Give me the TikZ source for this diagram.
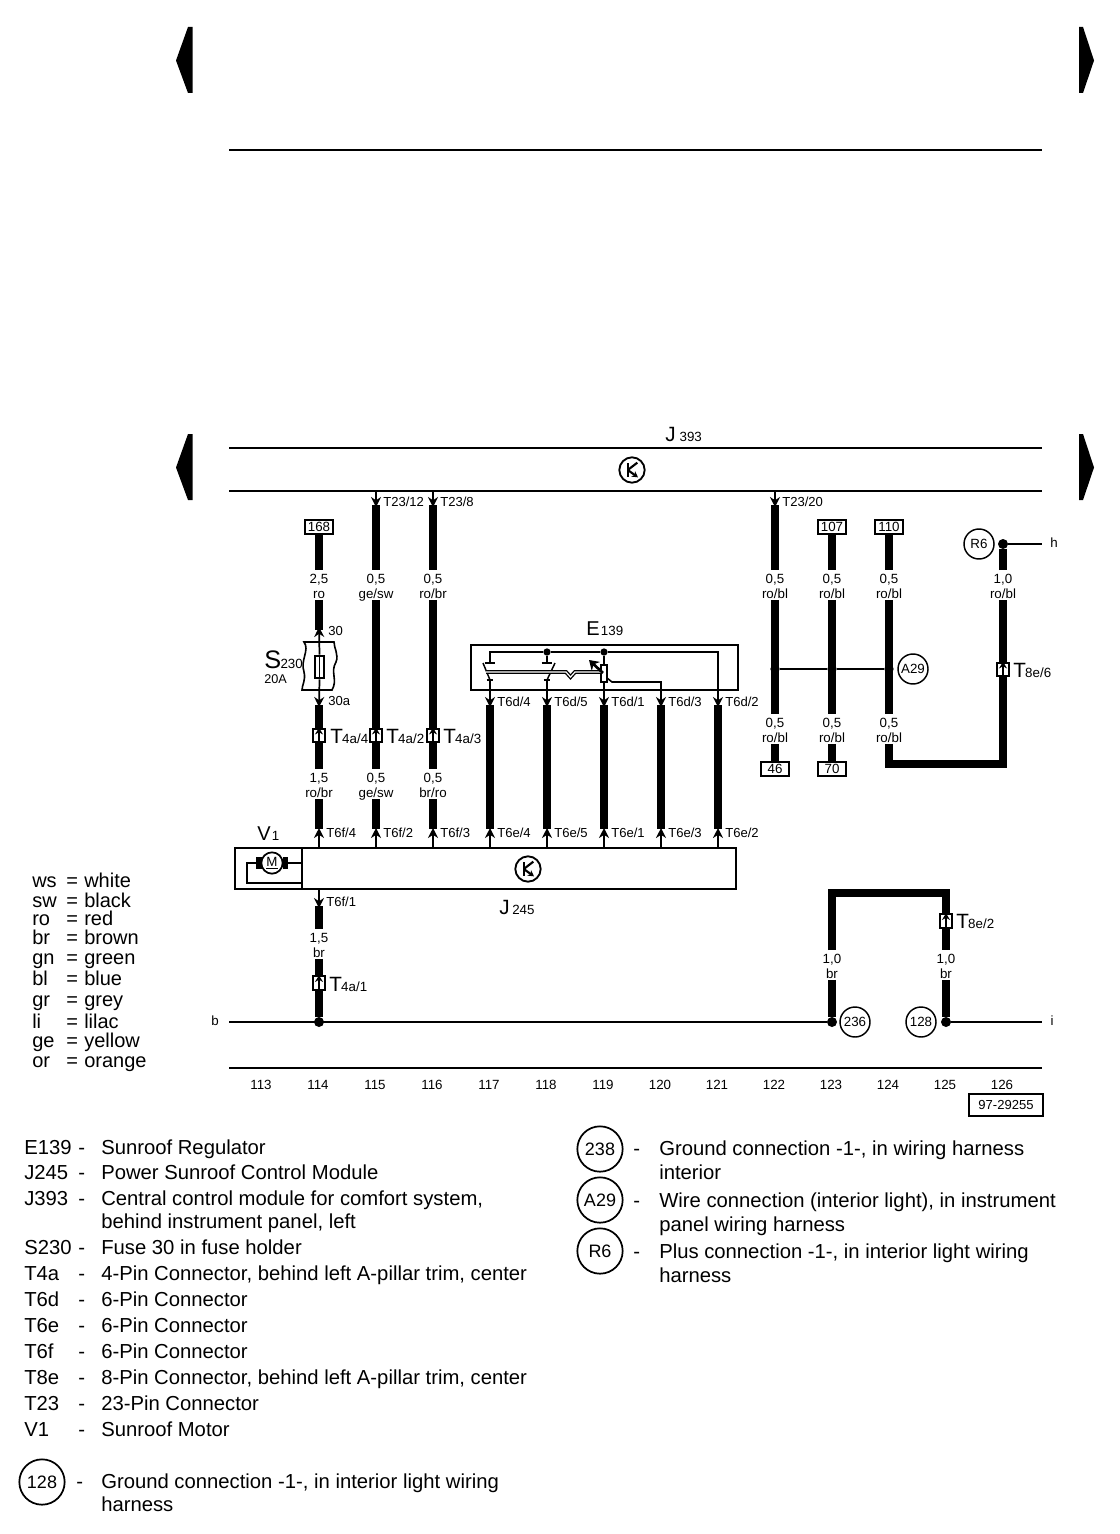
\documentclass[tikz,border=0pt]{standalone}
\usepackage{fontspec}
\setmainfont{Liberation Sans}
\usetikzlibrary{arrows.meta}
\tikzset{
  wire/.style={line width=6pt,line cap=butt},
  rail/.style={line width=1.9pt},
  pinarrow/.style={line width=1.3pt,-{Stealth[length=7.5pt,width=7.5pt]}},
  wlbox/.style={inner sep=0pt,minimum width=30pt,minimum height=22pt},
  wltxt/.style={font=\fontsize{10}{11}\selectfont,anchor=base,inner sep=0pt},
  plabel/.style={font=\fontsize{9.8}{11}\selectfont,anchor=base west,inner sep=0pt},
  tabbox/.style={draw,line width=1.6pt,fill=white,font=\fontsize{10}{11}\selectfont,inner sep=0pt,minimum width=21pt,minimum height=11pt},
  conbox/.style={draw,line width=1.6pt,fill=white,inner sep=0pt,minimum width=8.5pt,minimum height=10pt},
  locmark/.style={draw,circle,line width=1.1pt,fill=white,inner sep=0pt,minimum size=22.5pt,font=\fontsize{10}{11}\selectfont},
  bigloc/.style={draw,circle,line width=1.3pt,fill=white,inner sep=0pt,minimum size=34pt,font=\fontsize{13.5}{15}\selectfont},
  ecu/.style={draw,circle,line width=1.4pt,fill=white,inner sep=0pt,minimum size=19pt},
  jdot/.style={circle,fill=black,inner sep=0pt,minimum size=7.5pt},
  minidot/.style={circle,fill=black,inner sep=0pt,minimum size=7pt},
  txt/.style={font=\fontsize{15.2}{16}\selectfont,anchor=base west,inner sep=0pt},
  legendtxt/.style={font=\fontsize{15}{16}\selectfont,anchor=base west,inner sep=0pt},
  smalltxt/.style={font=\fontsize{10}{11}\selectfont,inner sep=0pt},
  biglab/.style={font=\fontsize{15.5}{17}\selectfont,anchor=base west,inner sep=0pt}
}
\newcommand{\bigsub}[2]{#1\kern-0.5pt{\fontsize{10}{11}\selectfont #2}}
\newcommand{\congl}[3]{% name, x, y
  \node[conbox] (#1) at (#2,#3) {};
  \draw[line width=1.1pt,-{Stealth[length=5pt,width=6pt]}] (#1.south) -- (#1.north);
}
\newcommand{\wirelab}[5]{% name, x, y, first line, second line
  \node[wlbox] (#1) at (#2,#3) {};
  \node[wltxt] (#1a) at (#2,#3-2) {#4};
  \node[wltxt] (#1b) at (#2,#3+13) {#5};
}
\newcommand{\ecuglyph}[1]{%
  \draw[line width=1.6pt] ([xshift=-3.2pt,yshift=5pt]#1.center) -- ([xshift=-3.2pt,yshift=-5pt]#1.center);
  \draw[line width=1.6pt] ([xshift=-3.2pt]#1.center) -- ([xshift=4pt,yshift=5.5pt]#1.center);
  \draw[line width=1.6pt,-{Stealth[length=4.5pt,width=5pt]}] ([xshift=-3.2pt]#1.center) -- ([xshift=4.5pt,yshift=-5.5pt]#1.center);
}
\begin{document}
\begin{tikzpicture}[x=0.75pt,y=-0.75pt]
\useasboundingbox (0,0) rectangle (1120,1534);
\fill[white] (0,0) rectangle (1120,1534);

% side markers
\foreach \yy in {0,407}{
  \fill[black] (188,27+\yy) -- (192.5,27+\yy) -- (192.5,93+\yy) -- (188,93+\yy) -- (176,60.5+\yy) -- cycle;
  \fill[black] (1083,27+\yy) -- (1079,27+\yy) -- (1079,93+\yy) -- (1083,93+\yy) -- (1094,60.5+\yy) -- cycle;
}

% rails
\coordinate (r1a) at (229,150); \coordinate (r1b) at (1042,150);
\coordinate (b1a) at (229,448); \coordinate (b1b) at (1042,448);
\coordinate (b2a) at (229,491); \coordinate (b2b) at (1042,491);
\coordinate (axa) at (229,1068); \coordinate (axb) at (1042,1068);
\draw[rail] (r1a) -- (r1b);
\draw[rail] (b1a) -- (b1b);
\draw[rail] (b2a) -- (b2b);
\draw[line width=1pt] (axa) -- (axb);

\node[font=\fontsize{15.5}{17}\selectfont,anchor=base west,inner sep=0pt] (j393) at (665,441) {J\kern3pt{\fontsize{10}{11}\selectfont 393}};
\node[ecu] (j393sym) at (632,470) {};
\ecuglyph{j393sym}

% control module J245
\node[draw,line width=1.6pt,minimum width=375.75pt,minimum height=30.75pt,inner sep=0pt] (j245) at (485.5,868.5) {};
\coordinate (jdiv1) at (302,848); \coordinate (jdiv2) at (302,889);
\draw[line width=1.6pt] (jdiv1) -- (jdiv2);
\node[ecu] (j245sym) at (528,869) {};
\ecuglyph{j245sym}
\node[font=\fontsize{15.5}{17}\selectfont,anchor=base west,inner sep=0pt] (j245lab) at (499,914) {J\kern2pt{\fontsize{10}{11}\selectfont 245}};
\node[font=\fontsize{15}{17}\selectfont,anchor=base west,inner sep=0pt] (v1lab) at (257,840) {V\kern1pt{\fontsize{10}{11}\selectfont 1}};

% motor
\node[draw,circle,line width=1.3pt,fill=white,minimum size=16pt,inner sep=0pt,font=\fontsize{10}{11}\selectfont] (mot) at (272,863) {\underline{M}};
\fill[black] (256,857) rectangle (262,869);
\fill[black] (282.5,857) rectangle (288,869);
\coordinate (mr) at (288,863); \coordinate (md) at (302,863);
\coordinate (ml) at (256,863); \coordinate (mc1) at (247,863); \coordinate (mc2) at (247,883); \coordinate (mc3) at (302,883);
\draw[line width=1.6pt] (mr) -- (md);
\draw[line width=1.6pt] (ml) -- (mc1) -- (mc2) -- (mc3);

% tab boxes
\node[tabbox] (t168) at (319,527) {168};
\node[tabbox] (t107) at (832,527) {107};
\node[tabbox] (t110) at (889,527) {110};
\node[tabbox] (t46) at (775,769) {46};
\node[tabbox] (t70) at (832,769) {70};

% wire labels
\wirelab{w1}{319}{585}{2,5}{ro}
\wirelab{w2}{376}{585}{0,5}{ge/sw}
\wirelab{w3}{433}{585}{0,5}{ro/br}
\wirelab{w4}{319}{784}{1,5}{ro/br}
\wirelab{w5}{376}{784}{0,5}{ge/sw}
\wirelab{w6}{433}{784}{0,5}{br/ro}
\wirelab{w7}{319}{944}{1,5}{br}
\wirelab{w8}{775}{585}{0,5}{ro/bl}
\wirelab{w9}{832}{585}{0,5}{ro/bl}
\wirelab{w10}{889}{585}{0,5}{ro/bl}
\wirelab{w11}{1003}{585}{1,0}{ro/bl}
\wirelab{w12}{775}{729}{0,5}{ro/bl}
\wirelab{w13}{832}{729}{0,5}{ro/bl}
\wirelab{w14}{889}{729}{0,5}{ro/bl}
\wirelab{w15}{832}{965}{1,0}{br}
\wirelab{w16}{946}{965}{1,0}{br}

% pin coordinates
\foreach \n/\xx in {a/376,b/433,c/775}{
  \coordinate (tb\n) at (\xx,491);
  \coordinate (ta\n) at (\xx,507);
  \coordinate (tw\n) at (\xx,505);
}
\foreach \n/\xx in {a/490,b/547,c/604,d/661,e/718}{
  \coordinate (ee\n) at (\xx,688);
  \coordinate (ea\n) at (\xx,707);
  \coordinate (ew\n) at (\xx,705);
  \coordinate (eu\n) at (\xx,829);
  \coordinate (ej\n) at (\xx,848);
  \coordinate (ek\n) at (\xx,828);
}
\foreach \n/\xx in {a/319,b/376,c/433}{
  \coordinate (fj\n) at (\xx,848);
  \coordinate (fk\n) at (\xx,828);
  \coordinate (fu\n) at (\xx,829);
}

% junctions and connectors
\node[jdot] (jb) at (319,1022) {};
\node[jdot] (j236) at (832,1022) {};
\node[jdot] (j128) at (946,1022) {};
\node[minidot] (a1) at (775,669) {};
\node[minidot] (a2) at (832,669) {};
\node[minidot] (a3) at (889,669) {};
\node[jdot] (rj) at (1003,544) {};
\coordinate (c1) at (889,763.5); \coordinate (c2) at (1003,763.5);
\coordinate (g1) at (832,893); \coordinate (g2) at (946,893);
\coordinate (ba) at (229,1022);
\coordinate (ia) at (1042,1022);
\coordinate (hb) at (1042,544);

% fuse
\coordinate (f30) at (319,630);
\coordinate (f30a) at (319,707); \coordinate (f30aw) at (319,705);
\draw[line width=1.2pt] (304,642) .. controls (310,650) and (300,660) .. (304,672) .. controls (306,680) and (302,685) .. (302,690) -- (332,690) .. controls (338,680) and (330,672) .. (336,662) .. controls (339,655) and (334,648) .. (334,642) -- cycle;
\node[draw,line width=1.6pt,fill=white,minimum width=7pt,minimum height=17pt,inner sep=0pt] (fuse) at (319.5,667) {};
\coordinate (f30tip) at (319,627);
\draw[pinarrow] (fuse.north) -- (f30tip);
\draw[pinarrow] (fuse.south) -- (f30a);
\draw[line width=1.2pt] (fuse.north) -- (fuse.south);

% thick wires
\draw[wire] (t168) -- (w1);
\draw[wire] (w1) -- (f30);
\draw[wire] (f30aw) -- (w4);
\draw[wire] (w4) -- (fua);
\draw[wire] (twa) -- (w2);
\draw[wire] (w2) -- (w5);
\draw[wire] (w5) -- (fub);
\draw[wire] (twb) -- (w3);
\draw[wire] (w3) -- (w6);
\draw[wire] (w6) -- (fuc);
\foreach \n in {a,b,c,d,e}{ \draw[wire] (ew\n) -- (eu\n); }
\coordinate (f1w) at (319,906);
\coordinate (f1t) at (319,889);
\coordinate (f1a) at (319,908);
\draw[wire] (f1w) -- (w7);
\draw[wire] (w7) -- (jb);
\draw[wire] (twc) -- (w8);
\draw[wire] (w8) -- (w12);
\draw[wire] (w12) -- (t46);
\draw[wire] (t107) -- (w9);
\draw[wire] (w9) -- (w13);
\draw[wire] (w13) -- (t70);
\draw[wire] (t110) -- (w10);
\draw[wire] (w10) -- (w14);
\draw[wire,line join=miter] (w14) -- (c1) -- (c2) -- (w11);
\draw[wire] (w11) -- (rj);
\draw[wire,line join=miter] (w15) -- (g1) -- (g2) -- (w16);
\draw[wire] (w15) -- (j236);
\draw[wire] (w16) -- (j128);

% thin rails
\draw[rail] (ba) -- (j236);
\draw[rail] (j128) -- (ia);
\draw[rail] (rj) -- (hb);
\draw[rail] (a1) -- (a2) -- (a3);

% pins
\foreach \n in {a,b,c}{ \draw[pinarrow] (tb\n) -- (ta\n); }
\foreach \n in {a,b,c,d,e}{
  \draw[pinarrow] (ee\n) -- (ea\n);
  \draw[pinarrow] (ej\n) -- (ek\n);
}
\foreach \n in {a,b,c}{ \draw[pinarrow] (fj\n) -- (fk\n); }
\draw[pinarrow] (f1t) -- (f1a);

% inline connectors
\congl{c4a4}{319}{735.5}
\congl{c4a2}{376}{735.5}
\congl{c4a3}{433}{735.5}
\congl{c4a1}{319}{983}
\congl{c8e6}{1003}{669.5}
\congl{c8e2}{946}{921}

% locating circles
\node[locmark] (l236) at (855,1022) {236};
\node[locmark] (l128) at (921,1022) {128};
\node[locmark] (la29) at (913,669) {A29};
\node[locmark] (lr6) at (979,544) {R6};

% E139
\node[draw,line width=1.4pt,minimum width=200.25pt,minimum height=33.75pt,inner sep=0pt] (e139) at (604.5,667.5) {};
\node[font=\fontsize{15}{17}\selectfont,anchor=base west,inner sep=0pt] (e139lab) at (586,635) {E\kern1pt{\fontsize{10}{11}\selectfont 139}};
\coordinate (k1) at (490,652); \coordinate (k1b) at (490,663);
\node[minidot,minimum size=5.5pt] (k2) at (547,652) {};
\node[minidot,minimum size=5.5pt] (k3) at (604,652) {};
\coordinate (k2b) at (547,663);
\coordinate (k4) at (718,652);
\node[draw,line width=1.2pt,fill=white,minimum width=4.5pt,minimum height=13pt,inner sep=0pt] (res) at (604,673.5) {};
\coordinate (s1t) at (483,663); \coordinate (s1b) at (490,680);
\coordinate (s2t) at (555,663); \coordinate (s2b) at (547,680);
\coordinate (d1) at (486,672); \coordinate (d2) at (566,672); \coordinate (d3) at (570.5,677); \coordinate (d4) at (575,672); \coordinate (d5) at (601,672);
\coordinate (wp1) at (607,678); \coordinate (wp2) at (612,682); \coordinate (wp3) at (661,682);
\coordinate (ar1) at (603,673); \coordinate (ar2) at (589,660);
\draw[line width=1.2pt] (k1b) -- (k1) -- (k2) -- (k3) -- (k4) -- (eee);
\draw[line width=1.2pt] (k2) -- (k2b);
\draw[line width=1.2pt] (k3) -- (res);
\draw[line width=1.2pt] (res) -- (eec);
\draw[line width=1.2pt] ([xshift=-4pt]k1b) -- ([xshift=4pt]k1b);
\draw[line width=1.2pt] ([xshift=-4pt]k2b) -- ([xshift=4pt]k2b);
\draw[line width=1.1pt] (s1t) -- (s1b);
\draw[line width=1.1pt] (s2t) -- (s2b);
\draw[line width=1.1pt] ([xshift=-2.5pt]s1b) -- ([xshift=2.5pt]s1b);
\draw[line width=1.1pt] ([xshift=-2.5pt]s2b) -- ([xshift=2.5pt]s2b);
\draw[line width=1.2pt] (s1b) -- (eea);
\draw[line width=1.2pt] (s2b) -- (eeb);
\draw[line width=1pt,double,double distance=0.9pt] (d1) -- (d2) -- (d3) -- (d4) -- (d5);
\draw[line width=1.2pt] (wp1) -- (wp2) -- (wp3) -- (eed);
\draw[line width=2pt,-{Stealth[length=7pt,width=9pt]}] (ar1) -- (ar2);

% pin labels
\node[plabel] (p1) at (383,506.5) {T23/12};
\node[plabel] (p2) at (440,506.5) {T23/8};
\node[plabel] (p3) at (782,506.5) {T23/20};
\node[plabel] (p4) at (328,635.5) {30};
\node[plabel] (p5) at (328,705.5) {30a};
\node[plabel] (p6) at (326,837.5) {T6f/4};
\node[plabel] (p7) at (383,837.5) {T6f/2};
\node[plabel] (p8) at (440,837.5) {T6f/3};
\node[plabel] (p9) at (497,837.5) {T6e/4};
\node[plabel] (p10) at (554,837.5) {T6e/5};
\node[plabel] (p11) at (611,837.5) {T6e/1};
\node[plabel] (p12) at (668,837.5) {T6e/3};
\node[plabel] (p13) at (725,837.5) {T6e/2};
\node[plabel] (p14) at (497,706.5) {T6d/4};
\node[plabel] (p15) at (554,706.5) {T6d/5};
\node[plabel] (p16) at (611,706.5) {T6d/1};
\node[plabel] (p17) at (668,706.5) {T6d/3};
\node[plabel] (p18) at (725,706.5) {T6d/2};
\node[plabel] (p19) at (326,906.5) {T6f/1};
\node[biglab] (q1) at (330,743) {\bigsub{T}{4a/4}};
\node[biglab] (q2) at (386,743) {\bigsub{T}{4a/2}};
\node[biglab] (q3) at (443,743) {\bigsub{T}{4a/3}};
\node[biglab] (q4) at (329,991) {\bigsub{T}{4a/1}};
\node[biglab] (q5) at (1013,677) {\bigsub{T}{8e/6}};
\node[biglab] (q6) at (956,928) {\bigsub{T}{8e/2}};
\node[font=\fontsize{19}{20}\selectfont,anchor=base west,inner sep=0pt] (s230) at (264,668) {S\kern-0.5pt{\fontsize{10}{11}\selectfont 230}};
\node[font=\fontsize{9.5}{10}\selectfont,anchor=base west,inner sep=0pt] (s20a) at (264,683) {20A};
\node[smalltxt] (hlab) at (1054,543) {h};
\node[smalltxt] (ilab) at (1052,1021) {i};
\node[smalltxt] (blab) at (215,1021) {b};

% column numbers
\foreach \k [count=\i from 0] in {113,114,115,116,117,118,119,120,121,122,123,124,125,126}{
  \node[smalltxt] (col\k) at (261+57*\i,1085) {\k};
}
\node[draw,line width=1.4pt,inner sep=0pt,minimum width=55pt,minimum height=16pt,font=\fontsize{9.8}{11}\selectfont] (code) at (1006,1105) {97-29255};

% colour legend
\foreach \a/\b/\yy [count=\i] in {ws/white/881,sw/black/901,ro/red/919,br/brown/938,gn/green/958,bl/blue/979,gr/grey/1000,li/lilac/1022,ge/yellow/1041,or/orange/1061}{
  \node[legendtxt] (lga\i) at (32,\yy+6.5) {\a};
  \node[legendtxt] (lgb\i) at (66,\yy+6.5) {=};
  \node[legendtxt] (lgc\i) at (84,\yy+6.5) {\b};
}

% component list
\foreach \a/\b/\yy [count=\i] in {
 E139/Sunroof Regulator/1148,
 J245/Power Sunroof Control Module/1173,
 J393/{Central control module for comfort system,}/1199,
 /{behind instrument panel, left}/1222,
 S230/Fuse 30 in fuse holder/1248,
 T4a/{4-Pin Connector, behind left A-pillar trim, center}/1274,
 T6d/6-Pin Connector/1300,
 T6e/6-Pin Connector/1326,
 T6f/6-Pin Connector/1352,
 T8e/{8-Pin Connector, behind left A-pillar trim, center}/1378,
 T23/23-Pin Connector/1404,
 V1/Sunroof Motor/1430}{
  \node[txt] (lista\i) at (24,\yy+6.5) {\a};
  \node[txt] (listb\i) at (101,\yy+6.5) {\b};
}
\foreach \yy [count=\i] in {1148,1173,1199,1248,1274,1300,1326,1352,1378,1404,1430}{
  \node[txt] (listd\i) at (78,\yy+6.5) {-};
}
\node[bigloc] (big128) at (42,1482) {128};
\node[txt] (d128) at (76,1488.5) {-};
\node[txt] (t128a) at (101,1488.5) {Ground connection -1-, in interior light wiring};
\node[txt] (t128b) at (101,1511.5) {harness};
\node[bigloc] (big238) at (600,1149) {238};
\node[txt] (d238) at (633,1155.5) {-};
\node[txt] (t238a) at (659,1155.5) {Ground connection -1-, in wiring harness};
\node[txt] (t238b) at (659,1179.5) {interior};
\node[bigloc] (biga29) at (600,1200) {A29};
\node[txt] (da29) at (633,1207.5) {-};
\node[txt] (ta29a) at (659,1207.5) {Wire connection (interior light), in instrument};
\node[txt] (ta29b) at (659,1231.5) {panel wiring harness};
\node[bigloc] (bigr6) at (600,1251) {R6};
\node[txt] (dr6) at (633,1258.5) {-};
\node[txt] (tr6a) at (659,1258.5) {Plus connection -1-, in interior light wiring};
\node[txt] (tr6b) at (659,1282.5) {harness};
\end{tikzpicture}
\end{document}
